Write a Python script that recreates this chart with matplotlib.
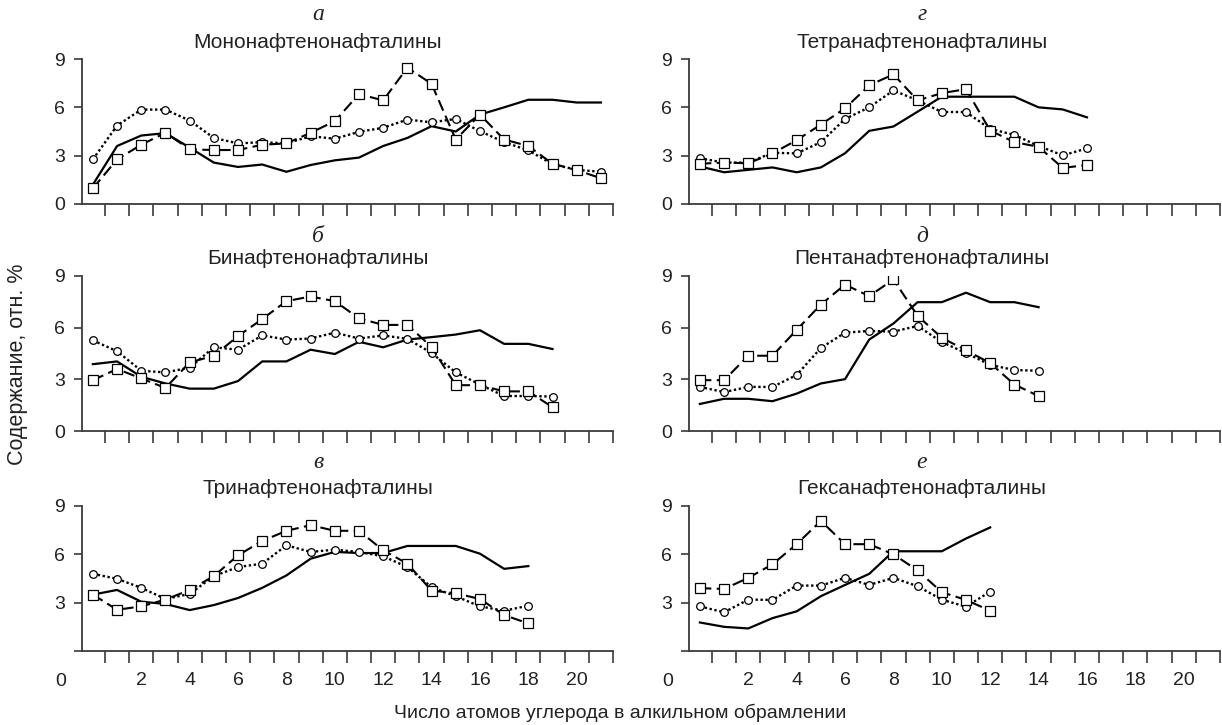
import numpy as np
import matplotlib.pyplot as plt

plt.rcParams['font.family'] = ['Liberation Sans', 'DejaVu Sans']

# ось x: число атомов углерода (0, 1, 2, ...), ось y: содержание, отн. %
# сплошная линия / квадраты (пунктир) / кружки (точки)
mono_solid = [1.2, 3.6, 4.25, 4.4, 3.5, 2.57, 2.3, 2.45, 2.0, 2.42, 2.71, 2.88, 3.6, 4.1, 4.83, 4.5, 5.55, 6.0, 6.47, 6.47, 6.3, 6.3]
mono_sq = [0.97, 2.77, 3.68, 4.42, 3.39, 3.35, 3.35, 3.68, 3.76, 4.42, 5.14, 6.82, 6.43, 8.46, 7.46, 4.0, 5.55, 4.0, 3.6, 2.5, 2.1, 1.6]
mono_circ = [2.77, 4.87, 5.86, 5.86, 5.18, 4.1, 3.76, 3.84, 3.76, 4.21, 4.05, 4.48, 4.73, 5.24, 5.07, 5.28, 4.52, 3.84, 3.33, 2.47, 2.12, 2.0]

bi_solid = [3.88, 4.04, 3.15, 2.76, 2.46, 2.46, 2.9, 4.04, 4.04, 4.72, 4.47, 5.18, 4.86, 5.31, 5.45, 5.6, 5.85, 5.06, 5.06, 4.76]
bi_sq = [2.95, 3.6, 3.05, 2.5, 3.98, 4.37, 5.51, 6.5, 7.54, 7.81, 7.54, 6.54, 6.16, 6.16, 4.88, 2.66, 2.66, 2.3, 2.3, 1.38]
bi_circ = [5.26, 4.63, 3.5, 3.4, 3.68, 4.86, 4.72, 5.55, 5.31, 5.37, 5.71, 5.37, 5.55, 5.35, 4.53, 3.4, 2.7, 2.03, 2.03, 2.0]

tri_solid = [3.5, 3.79, 3.06, 2.92, 2.54, 2.85, 3.29, 3.92, 4.69, 5.73, 6.15, 6.08, 6.08, 6.52, 6.52, 6.52, 6.04, 5.1, 5.27]
tri_sq = [3.5, 2.56, 2.77, 3.19, 3.79, 4.65, 5.94, 6.83, 7.46, 7.81, 7.46, 7.46, 6.25, 5.42, 3.75, 3.58, 3.23, 2.23, 1.71]
tri_circ = [4.79, 4.48, 3.92, 3.23, 3.54, 4.65, 5.21, 5.42, 6.56, 6.15, 6.29, 6.15, 5.88, 5.21, 3.96, 3.4, 2.77, 2.5, 2.81]

tetra_solid = [2.33, 1.97, 2.12, 2.27, 1.97, 2.27, 3.15, 4.54, 4.81, 5.73, 6.66, 6.66, 6.66, 6.66, 6.0, 5.87, 5.38]
tetra_sq = [2.5, 2.57, 2.53, 3.14, 3.96, 4.93, 5.94, 7.36, 8.05, 6.43, 6.88, 7.13, 4.56, 3.84, 3.55, 2.24, 2.42]
tetra_circ = [2.84, 2.57, 2.57, 3.18, 3.14, 3.84, 5.28, 6.0, 7.05, 6.43, 5.71, 5.71, 4.66, 4.29, 3.6, 3.02, 3.45]

penta_solid = [1.57, 1.87, 1.87, 1.73, 2.17, 2.76, 3.01, 5.31, 6.24, 7.48, 7.48, 8.03, 7.48, 7.48, 7.19]
penta_sq = [2.95, 2.95, 4.37, 4.37, 5.87, 7.34, 8.5, 7.83, 8.8, 6.69, 5.41, 4.69, 3.94, 2.7, 2.03]
penta_circ = [2.56, 2.26, 2.56, 2.56, 3.25, 4.82, 5.71, 5.81, 5.77, 6.1, 5.16, 4.53, 3.84, 3.54, 3.5]

hexa_solid = [1.77, 1.5, 1.4, 2.04, 2.46, 3.4, 4.1, 4.79, 6.19, 6.19, 6.19, 6.98, 7.67]
hexa_sq = [3.9, 3.85, 4.54, 5.38, 6.63, 8.08, 6.63, 6.63, 6.0, 5.0, 3.65, 3.17, 2.5]
hexa_circ = [2.77, 2.4, 3.19, 3.17, 4.06, 4.06, 4.54, 4.1, 4.54, 4.02, 3.19, 2.75, 3.69]

letters = ['а', 'б', 'в', 'г', 'д', 'е']
names = ['Мононафтенонафталины', 'Бинафтенонафталины', 'Тринафтенонафталины',
         'Тетранафтенонафталины', 'Пентанафтенонафталины', 'Гексанафтенонафталины']
yticks = [0, 3, 6, 9]
xlabels = [2, 4, 6, 8, 10, 12, 14, 16, 18, 20]

panels = [(mono_solid, mono_sq, mono_circ), (bi_solid, bi_sq, bi_circ), (tri_solid, tri_sq, tri_circ),
          (tetra_solid, tetra_sq, tetra_circ), (penta_solid, penta_sq, penta_circ), (hexa_solid, hexa_sq, hexa_circ)]

W, H = 1222, 725
col_left = [82, 689]          # px от левого края
col_w = 531
rows = [(59, 204), (276, 431), (506, 651)]   # верх (y=9) и низ (y=0), px сверху
title_y = [(14, 43), (236, 259), (462, 488)]
title_x = [318, 922]
dark = '#222222'


def draw(ax, solid, sq, circ, bottom):
    ax.plot(np.arange(len(solid)), solid, '-', color='k', lw=1.6, zorder=3)
    ax.plot(np.arange(len(circ)), circ, linestyle=(0, (1, 1.1)), color='k', lw=1.7,
            marker='o', ms=5.5, mfc='white', mec='k', mew=0.9, zorder=4)
    ax.plot(np.arange(len(sq)), sq, linestyle=(0, (5.5, 2.6)), color='k', lw=1.5,
            marker='s', ms=6.8, mfc='white', mec='k', mew=0.9, zorder=5)
    ax.set_xlim(-0.45, 21.5)
    ax.set_ylim(0, 9)
    for s in ['top', 'right']:
        ax.spines[s].set_visible(False)
    for s in ['left', 'bottom']:
        ax.spines[s].set_color('#3a3a3a')
        ax.spines[s].set_linewidth(1.3)
    ax.set_yticks(yticks)
    if bottom:
        ax.set_yticklabels(['', '3', '6', '9'])
        ax.set_xticks(xlabels)
        ax.set_xticklabels([str(v) for v in xlabels])
        ax.text(-0.03, -0.21, '0', transform=ax.transAxes, ha='right', va='center',
                fontsize=14, color=dark)
    else:
        ax.set_xticks([])
    ax.set_xticks(np.arange(0.5, 22, 1), minor=True)
    ax.tick_params(axis='y', which='major', length=6, width=1.2, color='#3a3a3a',
                   labelsize=14, labelcolor=dark, pad=6)
    ax.tick_params(axis='x', which='major', length=0, labelsize=14, labelcolor=dark, pad=15)
    ax.tick_params(axis='x', which='minor', length=8.5, width=1.2, color='#3a3a3a')


fig = plt.figure(figsize=(W / 100, H / 100), dpi=100)
for i in range(6):
    c, r = i // 3, i % 3
    top, bot = rows[r]
    ax = fig.add_axes([col_left[c] / W, 1 - bot / H, col_w / W, (bot - top) / H])
    draw(ax, *panels[i], bottom=(r == 2))
    fig.text(title_x[c] / W, 1 - title_y[r][0] / H, letters[i], ha='center', va='center',
             fontsize=17, style='italic', family=['Liberation Serif', 'DejaVu Serif'], color=dark)
    fig.text(title_x[c] / W, 1 - title_y[r][1] / H, names[i], ha='center', va='center',
             fontsize=15, color=dark)

fig.text(620 / W, 1 - 713 / H, 'Число атомов углерода в алкильном обрамлении',
         ha='center', va='center', fontsize=14, color=dark)
fig.text(18 / W, 1 - 364 / H, 'Содержание, отн. %', rotation=90, ha='center', va='center',
         fontsize=15.5, color=dark)

fig.savefig('out.png', dpi=100)
